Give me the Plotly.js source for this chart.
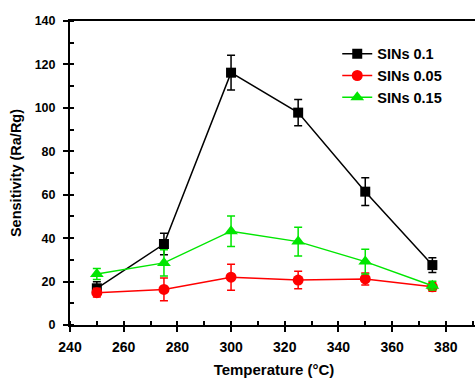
<!DOCTYPE html>
<html><head><meta charset="utf-8">
<script src="https://cdn.plot.ly/plotly-3.0.1.min.js"></script>
<style>html,body{margin:0;padding:0;overflow:hidden;background:#fff}</style>
</head><body><div id="chart" style="width:480px;height:378px"></div>
<script>
const temps = [250, 275, 300, 325, 350, 375];
const sins01 = [16.9, 37.3, 116.2, 97.8, 61.4, 27.6];
const sins01Err = [3, 5, 8, 6, 6.4, 3.4];
const sins005 = [14.9, 16.4, 22, 20.7, 21.2, 17.6];
const sins005Err = [2, 5.2, 6, 4, 2.8, 2];
const sins015 = [23.5, 28.6, 43.2, 38.4, 29.2, 18.1];
const sins015Err = [2.5, 6, 7, 6.6, 5.7, 2];
const names = ['SINs 0.1', 'SINs 0.05', 'SINs 0.15'];
const xTicks = [240, 260, 280, 300, 320, 340, 360, 380];
const yTicks = [0, 20, 40, 60, 80, 100, 120, 140];

const F = 'Liberation Sans, Arial, sans-serif';
function tr(y, err, name, color, symbol, size) {
  return {x: temps, y: y, name: name, type: 'scatter', mode: 'lines+markers',
    line: {color: color, width: 1.5},
    marker: {color: color, symbol: symbol, size: size},
    error_y: {type: 'data', array: err, visible: true, color: color, thickness: 1.5, width: 4}};
}
const data = [
  tr(sins01, sins01Err, names[0], '#000000', 'square', 10),
  tr(sins005, sins005Err, names[1], '#ff0000', 'circle', 11),
  tr(sins015, sins015Err, names[2], '#00e600', 'triangle-up', 12)
];
const layout = {
  width: 480, height: 378,
  margin: {l: 70, r: 2, t: 21, b: 53},
  paper_bgcolor: '#fff', plot_bgcolor: '#fff',
  showlegend: true,
  legend: {x: 0.655, y: 0.945, xanchor: 'left', yanchor: 'top', bgcolor: 'rgba(0,0,0,0)',
    font: {family: F, size: 14.5, color: '#000', weight: 'bold'}, tracegroupgap: 0, itemwidth: 30},
  xaxis: {range: [240, 392], tickvals: xTicks,
    ticks: 'outside', ticklen: 5, tickwidth: 2, tickcolor: '#000', ticklabelstandoff: 3,
    minor: {dtick: 10, ticks: 'inside', ticklen: 4, tickwidth: 2, tickcolor: '#000'},
    showline: true, linewidth: 2, linecolor: '#000', mirror: true,
    showgrid: false, zeroline: false, tickfont: {family: F, size: 14, color: '#000', weight: 'bold'},
    title: {text: 'Temperature (°C)', font: {family: F, size: 15, color: '#000', weight: 'bold'}, standoff: 13}},
  yaxis: {range: [0, 140], tickvals: yTicks,
    ticks: 'outside', ticklen: 5, tickwidth: 2, tickcolor: '#000', ticklabelstandoff: 5,
    minor: {dtick: 10, ticks: 'inside', ticklen: 4, tickwidth: 2, tickcolor: '#000'},
    showline: true, linewidth: 2, linecolor: '#000', mirror: true,
    showgrid: false, zeroline: false, tickfont: {family: F, size: 12.5, color: '#000', weight: 'bold'},
    title: {text: 'Sensitivity (Ra/Rg)', font: {family: F, size: 14.5, color: '#000', weight: 'bold'}, standoff: 10}},
  xaxis2: {overlaying: 'x', range: [240, 392], tickvals: xTicks,
    ticks: 'inside', ticklen: 4, tickwidth: 2, tickcolor: '#000', showticklabels: false,
    showline: false, showgrid: false, zeroline: false, side: 'bottom', anchor: 'y'},
  yaxis2: {overlaying: 'y', range: [0, 140], tickvals: yTicks,
    ticks: 'inside', ticklen: 4, tickwidth: 2, tickcolor: '#000', showticklabels: false,
    showline: false, showgrid: false, zeroline: false, side: 'left', anchor: 'x'}
};
Plotly.newPlot('chart', data, layout, {displayModeBar: false, staticPlot: true});
</script></body></html>
